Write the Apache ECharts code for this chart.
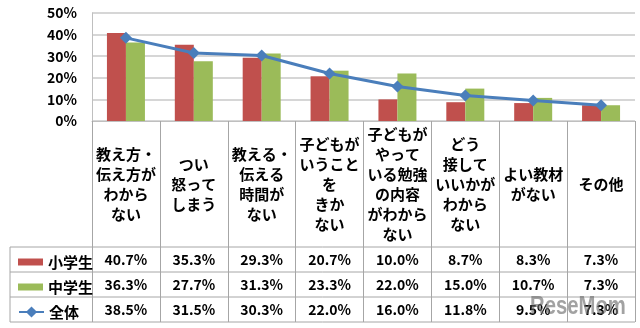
<!DOCTYPE html>
<html><head><meta charset="utf-8">
<script src="https://cdn.jsdelivr.net/npm/echarts@6/dist/echarts.min.js"></script>
<style>html,body{margin:0;padding:0;background:#fff}#c{width:640px;height:328px}</style>
</head><body><div id="c"></div>
<script>
const categories = ['教え方・\n伝え方が\nわから\nない','つい\n怒って\nしまう','教える・\n伝える\n時間が\nない','子どもが\nいうこと\nを\nきか\nない','子どもが\nやって\nいる勉強\nの内容\nがわから\nない','どう\n接して\nいいかが\nわから\nない','よい教材\nがない','その他'];
const elementary = [40.7,35.3,29.3,20.7,10.0,8.7,8.3,7.3];
const juniorHigh = [36.3,27.7,31.3,23.3,22.0,15.0,10.7,7.3];
const overall = [38.5,31.5,30.3,22.0,16.0,11.8,9.5,7.3];
const seriesNames = ['小学生','中学生','全体'];
const yTicks = {min:0, max:50, interval:10};

const FONT = '"Noto Sans CJK JP", "Noto Sans", sans-serif';
const GRID = {left:92, right:5, top:13, bottom:207};
const axisY = 328 - GRID.bottom; // 121
const rowTop = 247, rowH = 25, tableLeft = 10, tableRight = 635;
const lineCol = '#A6A6A6';

function rowAxis(vals, i){
  return {
    type:'category', gridIndex:0, position:'bottom',
    data: vals.map(v => v.toFixed(1) + '%'),
    axisLine:{show:false}, axisTick:{show:false}, splitLine:{show:false},
    axisLabel:{interval:0, margin: rowTop + rowH*i + rowH/2 - axisY, verticalAlign:'middle',
      fontFamily:FONT, fontSize:14, fontWeight:'bold', color:'#000'}
  };
}
function rowLegend(i){
  const item = {name:seriesNames[i]};
  if (i < 2) item.icon = 'rect';
  return {
    left:13, top: rowTop + rowH*i + rowH/2 - 10, height:20, itemWidth:25, itemHeight: i<2 ? 7 : 14,
    data:[item],
    textStyle:{fontFamily:FONT, fontSize:15, fontWeight:'bold', color:'#000'}
  };
}

const graphics = [];
for (let i=0;i<4;i++){
  graphics.push({type:'line', shape:{x1:tableLeft, y1:rowTop+rowH*i, x2:tableRight, y2:rowTop+rowH*i},
    style:{stroke:lineCol, lineWidth:1}, silent:true});
}
graphics.push({type:'line', shape:{x1:tableLeft, y1:rowTop, x2:tableLeft, y2:rowTop+rowH*3},
  style:{stroke:lineCol, lineWidth:1}, silent:true});
graphics.push({type:'text', x:530, y:294, scaleX:0.78, z:100, silent:true,
  style:{text:'ReseMom', font:'bold 26px "Liberation Sans", sans-serif', fill:'rgba(100,100,100,0.6)'}});

const chart = echarts.init(document.getElementById('c'), null, {renderer:'canvas'});
chart.setOption({
  animation:false,
  backgroundColor:'#fff',
  grid: GRID,
  legend:[rowLegend(0), rowLegend(1), rowLegend(2)],
  xAxis:[
    {
      type:'category', data:categories, gridIndex:0, position:'bottom',
      axisLine:{show:true, lineStyle:{color:'#BFBFBF', width:1}},
      axisTick:{show:true, interval:0, length: rowTop + rowH*3 - axisY, lineStyle:{color:lineCol, width:1}},
      axisLabel:{interval:0, margin:63, verticalAlign:'middle', lineHeight:20,
        fontFamily:FONT, fontSize:15, fontWeight:'bold', color:'#000'}
    },
    rowAxis(elementary,0), rowAxis(juniorHigh,1), rowAxis(overall,2)
  ],
  yAxis:{
    type:'value', min:yTicks.min, max:yTicks.max, interval:yTicks.interval,
    axisLine:{show:true, lineStyle:{color:'#BFBFBF'}}, axisTick:{show:false},
    splitLine:{lineStyle:{color:'#C8C8C8', width:1.5}},
    axisLabel:{formatter:'{value}%', margin:15, fontFamily:FONT, fontSize:14, fontWeight:'bold', color:'#000'}
  },
  series:[
    {name:seriesNames[0], type:'bar', data:elementary, xAxisIndex:0, barWidth:19, barGap:'0%', itemStyle:{color:'#C0504D'}},
    {name:seriesNames[1], type:'bar', data:juniorHigh, xAxisIndex:0, barWidth:19, barGap:'0%', itemStyle:{color:'#9BBB59'}},
    {name:seriesNames[2], type:'line', data:overall, xAxisIndex:0, symbol:'diamond', symbolSize:12,
      lineStyle:{color:'#4A7EBB', width:3}, itemStyle:{color:'#4A7EBB'}, z:5}
  ],
  graphic: graphics
});
</script></body></html>
